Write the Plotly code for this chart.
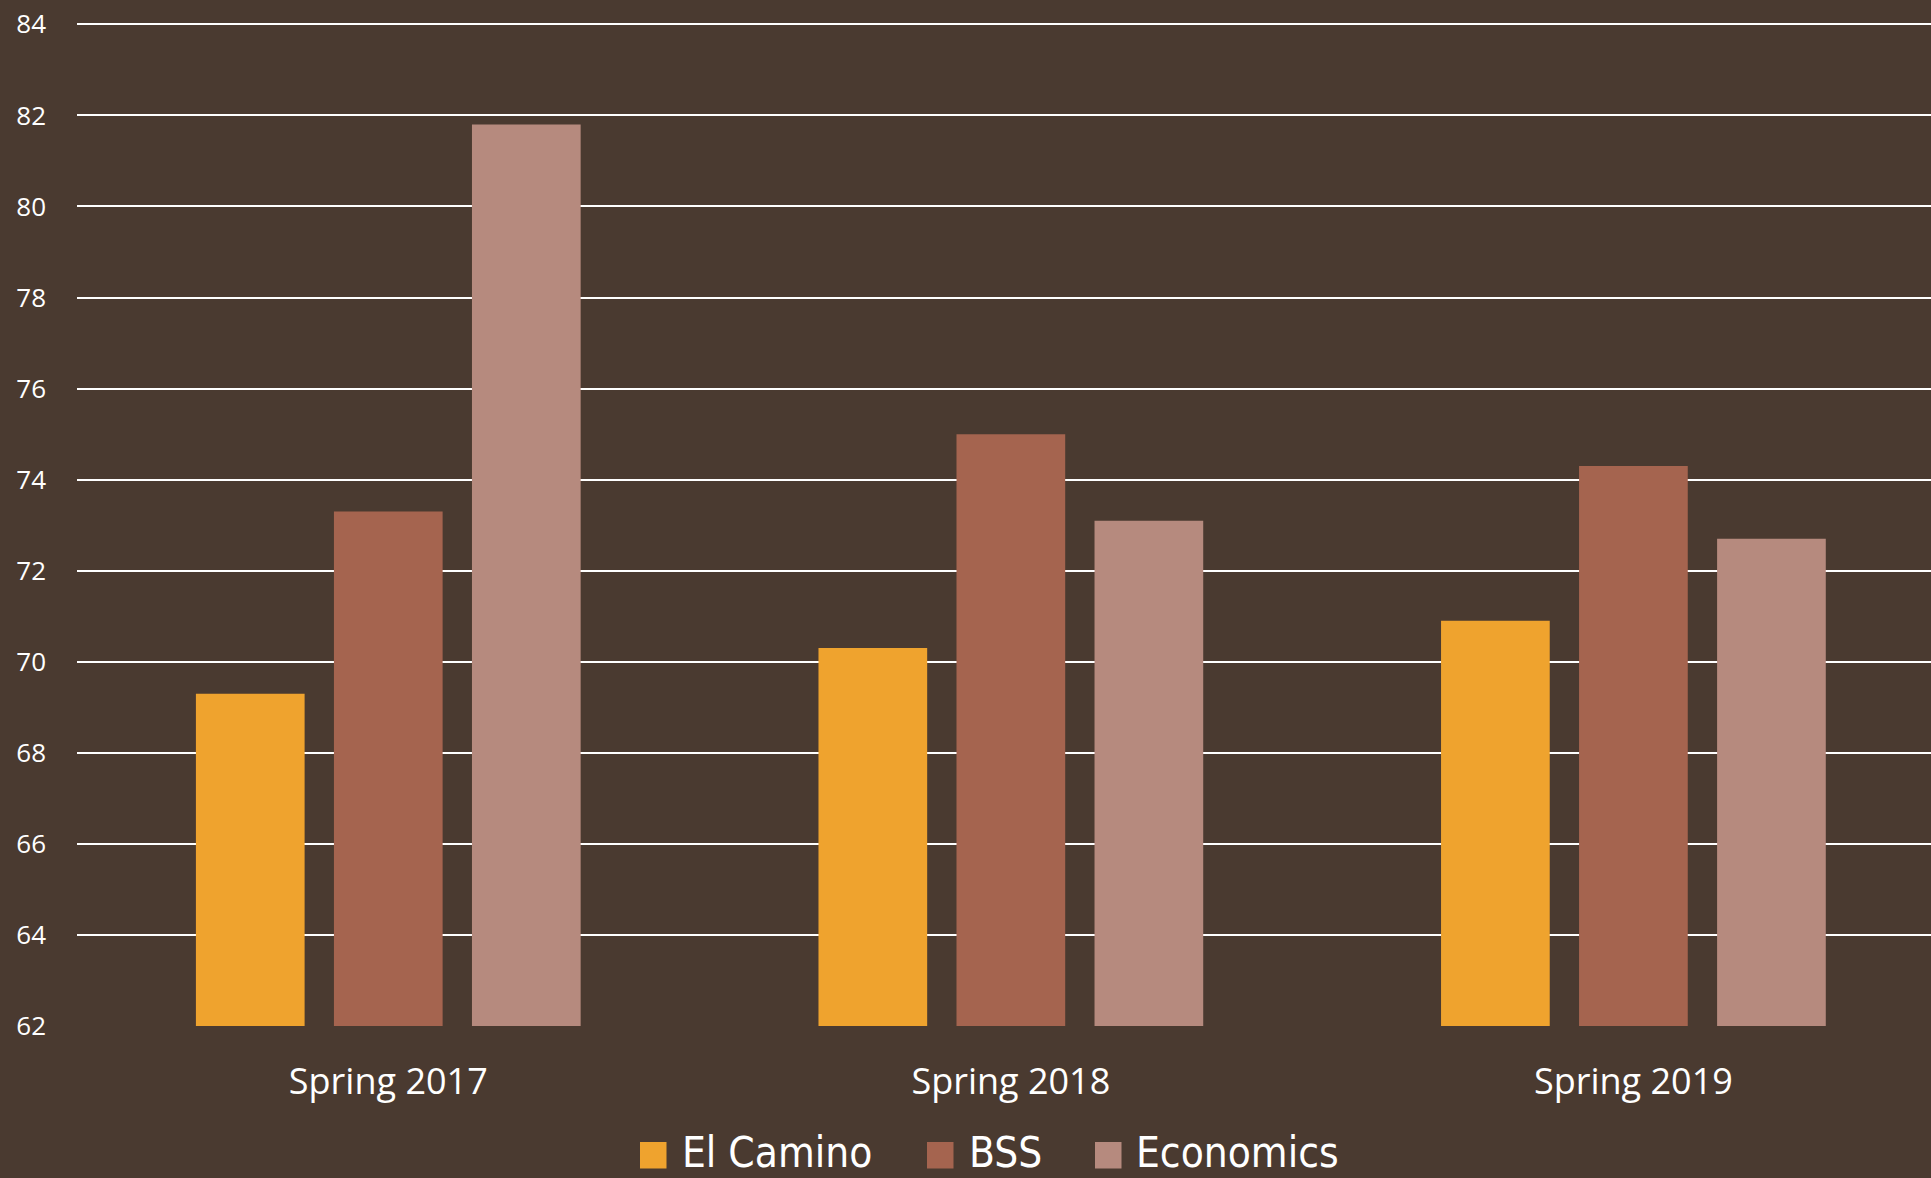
import plotly.graph_objects as go

categories = ["Spring 2017", "Spring 2018", "Spring 2019"]
series_names = ["El Camino", "BSS", "Economics"]
el_camino = [69.3, 70.3, 70.9]
bss = [73.3, 75.0, 74.3]
economics = [81.8, 73.1, 72.7]
y_ticks = [62, 64, 66, 68, 70, 72, 74, 76, 78, 80, 82, 84]

colors = ["#EFA32E", "#A5644F", "#B68A7E"]
bg = "#4A3A30"

W, H = 1931, 1178
M_L, M_T, M_B = 77, 23, 152
bar_w = 0.1746
step = 0.2217

fig = go.Figure()
for k, (name, vals, col) in enumerate(zip(series_names, [el_camino, bss, economics], colors)):
    fig.add_trace(go.Bar(
        x=categories, y=vals, name=name,
        marker=dict(color=col, line=dict(width=0)),
        width=bar_w, offset=-bar_w / 2 + (k - 1) * step,
        showlegend=False,
    ))

# Manual legend (large square swatches like the original)
plot_w = W - M_L
plot_h = H - M_T - M_B


def px_x(px):
    return (px - M_L) / plot_w


def px_y(py):
    return (H - M_B - py) / plot_h


swatch_x = [640, 927, 1095]
text_x = [681, 968, 1135]
sw_top, sw_bot = 1142, 1168.5
for name, col, sx, tx in zip(series_names, colors, swatch_x, text_x):
    fig.add_shape(type="rect", xref="paper", yref="paper",
                  x0=px_x(sx), x1=px_x(sx + 26.5), y0=px_y(sw_bot), y1=px_y(sw_top),
                  fillcolor=col, line=dict(width=0), layer="above")
    fig.add_annotation(xref="paper", yref="paper", x=px_x(tx), y=px_y(1152),
                       xanchor="left", yanchor="middle", text=name, showarrow=False,
                       borderpad=0,
                       font=dict(family="DejaVu Sans Condensed", size=42, color="#FFFFFF"))

fig.update_layout(
    width=W, height=H,
    paper_bgcolor=bg, plot_bgcolor=bg,
    margin=dict(l=M_L, r=0, t=M_T, b=M_B),
    barmode="overlay",
    showlegend=False,
    xaxis=dict(
        type="category", range=[-0.5, 2.478], showgrid=False, zeroline=False, showline=False,
        tickfont=dict(family="Open Sans", size=36, color="#FFFFFF"),
        ticks="", ticklabelstandoff=31,
    ),
    yaxis=dict(
        range=[62, 84.03], tickvals=y_ticks, ticktext=[str(v) for v in y_ticks],
        showgrid=True, gridcolor="#FFFFFF", gridwidth=1.75, zeroline=False,
        showline=False, ticks="",
        tickfont=dict(family="Open Sans", size=26, color="#FFFFFF"),
        ticklabelstandoff=30,
    ),
)

fig.write_html(
    "out.html",
    config={"displayModeBar": False},
    post_script="document.body.style.margin='0';document.body.style.overflow='hidden';"
                "document.body.style.backgroundColor='#4A3A30';",
)
